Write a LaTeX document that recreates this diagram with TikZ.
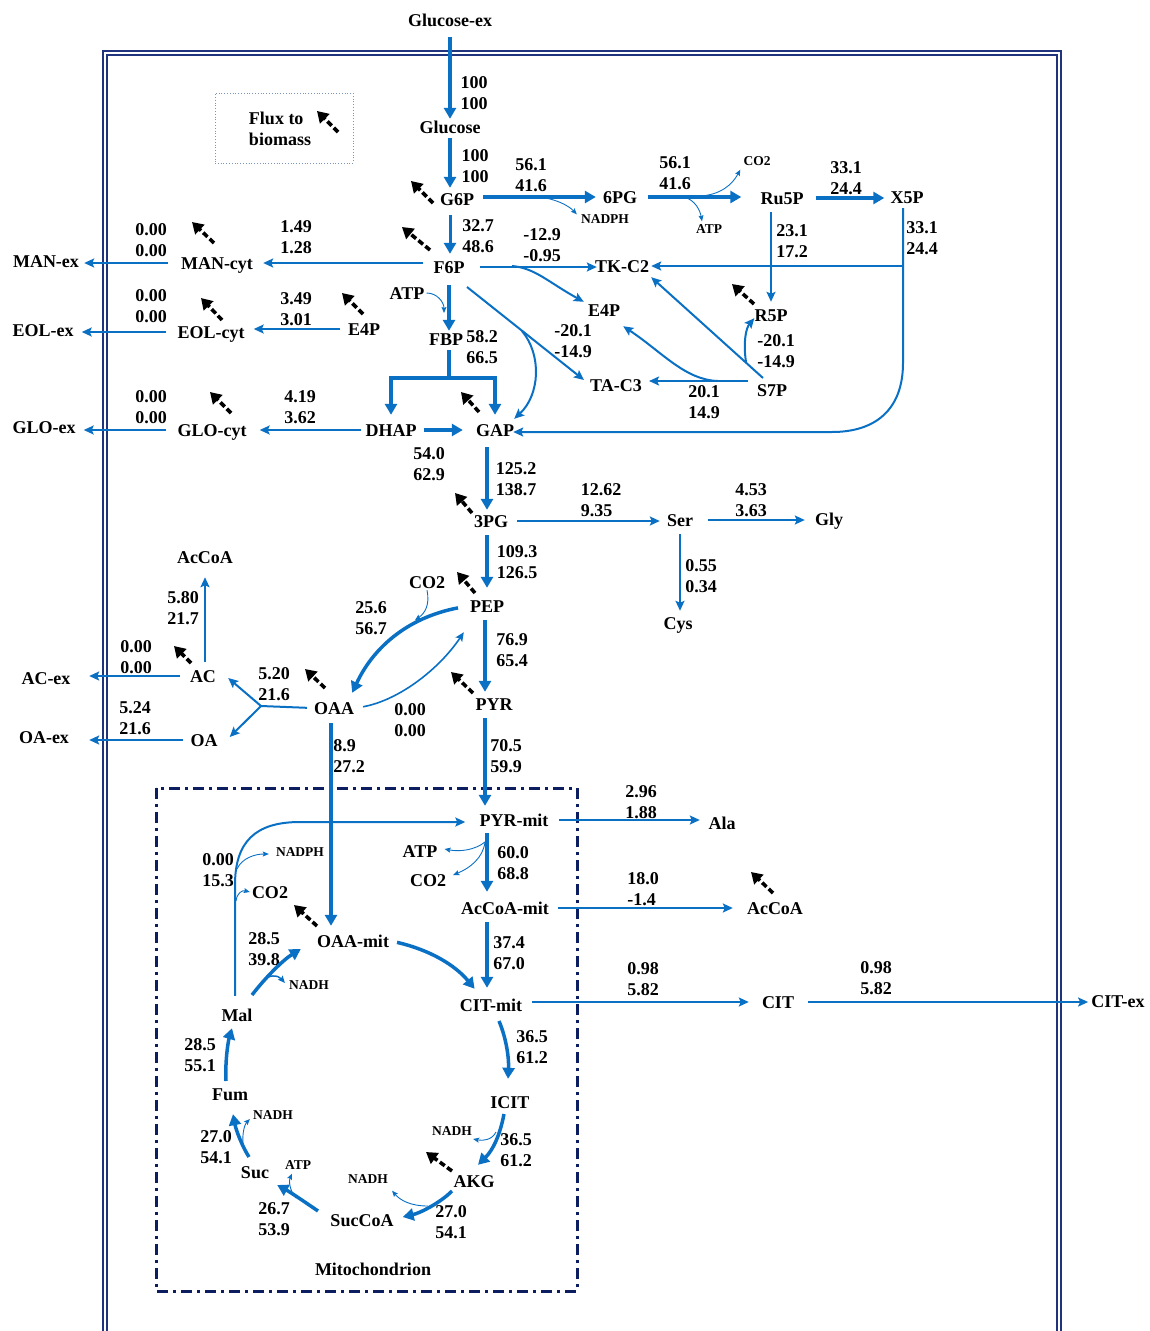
\documentclass[tikz,border=0pt]{standalone}
\usepackage{fontspec}
\setmainfont{Liberation Serif}
\usetikzlibrary{arrows.meta,calc}
\definecolor{fb}{RGB}{10,112,196}
\definecolor{boxc}{RGB}{32,52,125}
\definecolor{mitc}{RGB}{12,30,95}
\definecolor{legc}{RGB}{120,150,185}
\newcommand\bioarr[3]{\coordinate (#1s) at (#2); \coordinate (#1h) at (#3); \draw[bio] (#1s) -- (#1h);}
\tikzset{
 met/.style={font=\bfseries\fontsize{18}{21}\selectfont, inner sep=2pt, text height=12pt, text depth=0pt},
 sm/.style={font=\bfseries\fontsize{13.5}{15}\selectfont, inner sep=1pt, text height=9pt, text depth=0pt},
 num/.style={font=\bfseries\fontsize{18}{21}\selectfont, align=left, inner sep=0pt},
 thk/.style={draw=fb, line width=3.5pt, -{Triangle[length=11pt,width=12pt]}},
 thkb/.style={draw=fb, line width=3.5pt, line join=miter, {Triangle[length=11pt,width=12pt]}-{Triangle[length=11pt,width=12pt]}},
 med/.style={draw=fb, line width=2pt, -{Stealth[length=10pt,width=9pt,inset=2pt]}},
 thn/.style={draw=fb, line width=0.9pt, -{Stealth[length=6pt,width=5pt,inset=1pt]}},
 bio/.style={draw=black, line width=3.6pt, dash pattern=on 6pt off 3pt, -{Triangle[length=11pt,width=13pt]}},
 outerbox/.style={draw=boxc, double=white, double distance=1.5pt, line width=1.8pt},
 mitbox/.style={draw=mitc, line width=3pt, dash pattern=on 11pt off 5pt on 3pt off 5pt},
 legbox/.style={draw=legc, dotted, line width=0.8pt, minimum width=138pt, minimum height=70pt},
}
\begin{document}
\begin{tikzpicture}[x=1pt,y=-1pt]
\useasboundingbox (0,0) rectangle (1150,1331);
% frames
\draw[outerbox] (105,1331) -- (105,53) -- (1059,53) -- (1059,1331);
\draw[mitbox] (156,788) rectangle (577,1291);
\node[legbox] (legend) at (284,128) {};
\node[num] (legtxt) at (280,129) {Flux to\\biomass};

% metabolites
\node[met] (glcex) at (450,20) {Glucose-ex};
\node[met] (glc) at (450,127) {Glucose};
\node[met] (g6p) at (457,199) {G6P};
\node[met] (f6p) at (449,267) {F6P};
\node[met] (fbp) at (446,339) {FBP};
\node[met] (pg6) at (620,197) {6PG};
\node[met] (ru5p) at (782,198) {Ru5P};
\node[met] (x5p) at (907,197) {X5P};
\node[met] (tkc2) at (622,266) {TK-C2};
\node[met] (e4pr) at (604,310) {E4P};
\node[met] (r5p) at (771,315) {R5P};
\node[met] (tac3) at (616,385) {TA-C3};
\node[met] (s7p) at (772,390) {S7P};
\node[met] (dhap) at (391,430) {DHAP};
\node[met] (gap) at (495,430) {GAP};
\node[met] (glocyt) at (212,430) {GLO-cyt};
\node[met] (gloex) at (44,427) {GLO-ex};
\node[met] (mancyt) at (217,263) {MAN-cyt};
\node[met] (manex) at (46,261) {MAN-ex};
\node[met] (eolcyt) at (211,332) {EOL-cyt};
\node[met] (eolex) at (43,330) {EOL-ex};
\node[met] (e4pl) at (364,329) {E4P};
\node[met] (atpf) at (407,293) {ATP};
\node[met] (pg3) at (491,521) {3PG};
\node[met] (ser) at (680,520) {Ser};
\node[met] (gly) at (829,519) {Gly};
\node[met] (cys) at (678,623) {Cys};
\node[met] (pep) at (487,606) {PEP};
\node[met] (co2p) at (427,582) {CO2};
\node[met] (pyr) at (494,704) {PYR};
\node[met] (oaa) at (334,708) {OAA};
\node[met] (ac) at (203,676) {AC};
\node[met] (oa) at (204,740) {OA};
\node[met] (acex) at (46,678) {AC-ex};
\node[met] (oaex) at (44,737) {OA-ex};
\node[met] (accoal) at (205,557) {AcCoA};
\node[met] (pyrmit) at (514,820) {PYR-mit};
\node[met] (ala) at (722,823) {Ala};
\node[met] (atpm) at (420,851) {ATP};
\node[met] (co2m) at (428,880) {CO2};
\node[met] (accoamit) at (505,908) {AcCoA-mit};
\node[met] (accoar) at (775,908) {AcCoA};
\node[met] (oaamit) at (353,941) {OAA-mit};
\node[met] (citmit) at (491,1005) {CIT-mit};
\node[met] (cit) at (778,1002) {CIT};
\node[met] (citex) at (1118,1001) {CIT-ex};
\node[met] (icit) at (510,1102) {ICIT};
\node[met] (akg) at (474,1181) {AKG};
\node[met] (succoa) at (362,1220) {SucCoA};
\node[met] (suc) at (255,1172) {Suc};
\node[met] (fum) at (230,1094) {Fum};
\node[met] (mal) at (237,1015) {Mal};
\node[met] (co2l) at (270,892) {CO2};
\node[sm] (nadphm) at (300,852) {NADPH};
\node[sm] (nadh1) at (309,985) {NADH};
\node[sm] (nadh2) at (273,1115) {NADH};
\node[sm] (atps) at (298,1165) {ATP};
\node[sm] (nadh3) at (368,1179) {NADH};
\node[sm] (nadh4) at (452,1131) {NADH};
\node[met] (mito) at (373,1269) {Mitochondrion};
\node[sm] (nadphg) at (605,219) {NADPH};
\node[sm] (co2g) at (757,161) {CO2};
\node[sm] (atpg) at (709,229) {ATP};

% flux values
\node[num] (n1) at (474,93) {100\\100};
\node[num] (n2) at (475,166) {100\\100};
\node[num] (n3) at (531,175) {56.1\\41.6};
\node[num] (n4) at (675,173) {56.1\\41.6};
\node[num] (n5) at (846,178) {33.1\\24.4};
\node[num] (n6) at (478,236) {32.7\\48.6};
\node[num] (n7) at (542,245) {-12.9\\-0.95};
\node[num] (n8) at (792,241) {23.1\\17.2};
\node[num] (n9) at (922,238) {33.1\\24.4};
\node[num] (n10) at (296,237) {1.49\\1.28};
\node[num] (n11) at (151,240) {0.00\\0.00};
\node[num] (n12) at (151,306) {0.00\\0.00};
\node[num] (n13) at (296,309) {3.49\\3.01};
\node[num] (n14) at (482,347) {58.2\\66.5};
\node[num] (n15) at (573,341) {-20.1\\-14.9};
\node[num] (n16) at (776,351) {-20.1\\-14.9};
\node[num] (n17) at (704,402) {20.1\\14.9};
\node[num] (n18) at (151,407) {0.00\\0.00};
\node[num] (n19) at (300,407) {4.19\\3.62};
\node[num] (n20) at (429,464) {54.0\\62.9};
\node[num] (n21) at (516,479) {125.2\\138.7};
\node[num] (n22) at (601,500) {12.62\\9.35};
\node[num] (n23) at (751,500) {4.53\\3.63};
\node[num] (n24) at (517,562) {109.3\\126.5};
\node[num] (n25) at (701,576) {0.55\\0.34};
\node[num] (n26) at (371,618) {25.6\\56.7};
\node[num] (n27) at (183,608) {5.80\\21.7};
\node[num] (n28) at (512,650) {76.9\\65.4};
\node[num] (n29) at (136,657) {0.00\\0.00};
\node[num] (n30) at (274,684) {5.20\\21.6};
\node[num] (n31) at (135,718) {5.24\\21.6};
\node[num] (n32) at (410,720) {0.00\\0.00};
\node[num] (n33) at (349,756) {8.9\\27.2};
\node[num] (n34) at (506,756) {70.5\\59.9};
\node[num] (n35) at (641,802) {2.96\\1.88};
\node[num] (n36) at (218,870) {0.00\\15.3};
\node[num] (n37) at (513,863) {60.0\\68.8};
\node[num] (n38) at (643,889) {18.0\\-1.4};
\node[num] (n39) at (264,949) {28.5\\39.8};
\node[num] (n40) at (509,953) {37.4\\67.0};
\node[num] (n41) at (643,979) {0.98\\5.82};
\node[num] (n42) at (876,978) {0.98\\5.82};
\node[num] (n43) at (532,1047) {36.5\\61.2};
\node[num] (n44) at (200,1055) {28.5\\55.1};
\node[num] (n45) at (216,1147) {27.0\\54.1};
\node[num] (n46) at (516,1150) {36.5\\61.2};
\node[num] (n47) at (274,1219) {26.7\\53.9};
\node[num] (n48) at (451,1222) {27.0\\54.1};

% ---- glycolysis / PPP connectors
\draw[thk, shorten <=9pt] (glcex) -- (glc);
\draw[thk, shorten <=3pt, shorten >=3pt] (glc.south) -- (glc.south |- g6p.north);
\draw[thk, shorten <=7pt, shorten >=5pt] (g6p.east |- pg6) -- (pg6.west);
\draw[thk, shorten <=9pt, shorten >=17pt] (pg6.east) -- (pg6.east -| ru5p.west);
\draw[thk, shorten <=10pt, shorten >=4pt] (ru5p.east) -- (ru5p.east -| x5p.west);
\draw[thk, line width=3pt, shorten <=8pt, shorten >=5pt] (glc |- g6p.south) -- (glc |- f6p.north);
\draw[thk, shorten <=10pt] (f6p.south) -- (f6p.south |- fbp.north);
\coordinate (fbj) at (449,378);
\draw[fb, line width=3.5pt, shorten <=3pt] (fbp.south -| fbj) -- (fbj);
\draw[thkb, shorten <=7pt, shorten >=7pt] (dhap.north) |- (fbj) -| (gap.north);
\draw[thk, shorten <=5pt, shorten >=11pt] (dhap.east) -- (gap.west);

\draw[med, shorten <=2pt, shorten >=11pt] (dhap.west) -- (glocyt.east);
\draw[med, shorten <=9pt, shorten >=6pt] (glocyt.west) -- (glocyt.west -| gloex.east);
\draw[med, shorten <=8pt, shorten >=8pt] (f6p.west |- mancyt) -- (mancyt.east);
\draw[med, shorten <=11pt, shorten >=3pt] (mancyt.west) -- (mancyt.west -| manex.east);
\draw[med, shorten <=6pt, shorten >=7pt] (e4pl.west) -- (e4pl.west -| eolcyt.east);
\draw[med, shorten <=9.5pt, shorten >=6pt] (eolcyt.west) -- (eolcyt.west -| eolex.east);

\draw[med, shorten <=13pt, shorten >=-4pt] (f6p.east) -- (f6p.east -| tkc2.west);
\coordinate (xj) at (903,266);
\coordinate (xc1) at (903,363);
\coordinate (xc2) at (832,432);
\draw[med] (xj) -- (tkc2.east);
\draw[med, shorten <=3pt, shorten >=-3pt] (x5p.south -| xj) -- (xc1) .. controls (903,410) and (875,432) .. (xc2) -- (xc2 -| gap.east);
\draw[med, shorten <=6pt, shorten >=5pt] (r5p |- ru5p.south) -- (r5p.north);
\coordinate (fe1) at (512,266);
\draw[med] (fe1) .. controls (535,268) and (548,282) .. ($(e4pr.north west)+(-2,0)$);
\coordinate (ft1) at (467,287);
\draw[med] (ft1) -- ($(tac3.west)+(-4,-5)$);
\coordinate (fg1) at (522,331);
\draw[med] (fg1) .. controls (542,355) and (540,395) .. ($(gap.north east)+(-2,-3)$);
\coordinate (s7a) at (763,378);
\draw[med] (s7a) -- ($(tkc2.south east)+(0,3)$);
\coordinate (s7b) at (748,381);
\draw[med, shorten >=5pt] (s7b) -- (s7b -| tac3.east);
\coordinate (s7c) at (718,381);
\draw[med] (s7c) .. controls (685,380) and (662,352) .. ($(e4pr.south east)+(1,8)$);
\coordinate (s7d) at (746,362);
\draw[med] (s7d) .. controls (743,342) and (746,328) .. ($(r5p.south west)+(2,-5)$);

% cofactors upper
\coordinate (cn1) at (540,197);
\draw[thn] (cn1) .. controls (555,199) and (568,205) .. ($(nadphg.north west)+(-3,1)$);
\coordinate (cc1) at (700,196);
\draw[thn] (cc1) .. controls (720,195) and (732,185) .. ($(co2g.south west)+(-2,3)$);
\coordinate (ca1) at (684,197);
\draw[thn] (ca1) .. controls (695,200) and (700,210) .. ($(atpg.north)+(-7,-2)$);
\coordinate (c4) at (444,313);
\draw[thn] (atpf.east) .. controls (437,293) and (444,302) .. (c4);

% lower glycolysis
\coordinate (vx) at (487,0);
\coordinate (vy) at (485,0);
\draw[thk, shorten <=9pt, shorten >=3pt] (vx |- gap.south) -- (vx |- pg3.north);
\draw[thk, shorten <=6pt, shorten >=10pt] (vx |- pg3.south) -- (vx |- pep.north);
\draw[thk, shorten <=6pt, shorten >=4pt] (vy |- pep.south) -- (vy |- pyr.north);
\draw[thk, shorten <=6pt, shorten >=6pt] (vy |- pyr.south) -- (vy |- pyrmit.north);
\draw[thk, shorten <=5pt, shorten >=8pt] (vx |- pyrmit.south) -- (vx |- accoamit.north);
\draw[thk, shorten <=6pt, shorten >=9pt] (vx |- accoamit.south) -- (vx |- citmit.north);

\draw[med, shorten <=7pt, shorten >=5pt] (pg3.east) -- (pg3.east -| ser.west);
\draw[med, shorten <=13pt, shorten >=8pt] (ser.east) -- (ser.east -| gly.west);
\draw[med, shorten <=6pt, shorten >=4pt] (ser.south) -- (ser.south |- cys.north);

% PEP / OAA
\draw[thk, shorten <=10pt] (pep.west) .. controls (405,618) and (372,650) .. ($(oaa.north east)+(-4,-7)$);
\draw[thn] (co2p.south) .. controls (430,605) and (425,613) .. ($(co2p.south)+(-12,30)$);
\draw[fb, line width=1.6pt, -{Stealth[length=9pt,width=8pt,inset=2pt]}, shorten <=7pt] (oaa.east) .. controls (400,700) and (440,668) .. ($(pep.south west)+(-4,18)$);
\coordinate (oj) at (261,706);
\draw[fb, line width=2pt, shorten <=5pt] (oaa.west) -- (oj);
\draw[med] (oj) -- ($(ac.east)+(10,2)$);
\draw[med] (oj) -- ($(oa.east)+(10,-3)$);
\draw[med, shorten <=8pt, shorten >=16.5pt] (ac.west) -- (ac.west -| acex.east);
\draw[med, shorten <=5.5pt, shorten >=18pt] (oa.west) -- (oa.west -| oaex.east);
\draw[med, shorten <=6pt, shorten >=12pt] (ac.north -| accoal) -- (accoal.south);
\coordinate (vz) at (331,0);
\draw[thk, shorten <=7pt, shorten >=7pt] (vz |- oaa.south) -- (vz |- oaamit.north);

% TCA cycle
\draw[thk, shorten <=6pt] (oaamit.east) .. controls (430,950) and (455,965) .. ($(citmit.north west)+(17,-8)$);
\coordinate (cm1) at (499,1021);
\draw[thk] (cm1) .. controls (507,1040) and (509,1060) .. ($(icit.north)+(-2,-15)$);
\coordinate (cm2) at (504,1114);
\draw[thk] (cm2) .. controls (500,1135) and (493,1150) .. ($(akg.north)+(4,-8)$);
\coordinate (cm3) at (496,1132);
\draw[thn] (cm3) .. controls (492,1140) and (483,1141) .. ($(nadh4.east)+(0,8)$);
\coordinate (cm4) at (452,1191);
\draw[thk] (cm4) .. controls (440,1203) and (420,1213) .. ($(succoa.east)+(7,-3)$);
\coordinate (cm5) at (428,1206);
\draw[thn] (cm5) .. controls (410,1206) and (400,1200) .. ($(nadh3.south east)+(3,6)$);
\coordinate (cm6) at (318,1211);
\draw[thk] (cm6) .. controls (302,1200) and (290,1192) .. ($(suc.east)+(6,13)$);
\coordinate (cm7) at (296,1198);
\draw[thn] (cm7) .. controls (289,1190) and (289,1180) .. ($(atps.south)+(-6,3)$);
\coordinate (cm8) at (249,1157);
\draw[thk] (cm8) .. controls (242,1146) and (236,1130) .. ($(fum.south)+(3,12)$);
\coordinate (cm9) at (243,1145);
\draw[thn] (cm9) .. controls (242,1132) and (245,1124) .. ($(nadh2.west)+(-2,4)$);
\coordinate (cm10) at (226,1081);
\draw[thk] (cm10) .. controls (225,1062) and (228,1042) .. ($(mal.south)+(-5,5)$);
\coordinate (cm11) at (252,995);
\draw[thk] (cm11) .. controls (265,978) and (283,960) .. ($(oaamit.west)+(-14,8)$);
\coordinate (cm12) at (262,982);
\draw[fb, line width=1.5pt, -{Stealth[length=7pt,width=6pt,inset=1pt]}] (cm12) .. controls (268,974) and (278,975) .. ($(nadh1.west)+(-3,-2)$);

\coordinate (vm) at (235,0);
\coordinate (pm1) at (235,885);
\coordinate (pm2) at (300,822);
\draw[med, shorten <=11pt, shorten >=12pt] (vm |- mal.north) -- (pm1) .. controls (235,842) and (255,822) .. (pm2) -- (pm2 -| pyrmit.west);
\coordinate (cm14) at (237,869);
\draw[thn] (cm14) .. controls (242,858) and (255,854) .. ($(nadphm.west)+(-6,2)$);
\coordinate (cm15) at (236,901);
\draw[thn] (cm15) .. controls (237,893) and (242,890) .. (co2l.west);
\coordinate (cm16) at (485,842);
\draw[thn] (cm16) .. controls (475,850) and (460,852) .. ($(atpm.east)+(5,-2)$);
\draw[thn] (cm16) .. controls (483,858) and (470,868) .. ($(co2m.east)+(5,-5)$);

% exits
\draw[med, shorten <=8.5pt, shorten >=6.5pt] (pyrmit.east) -- (pyrmit.east -| ala.west);
\draw[med, shorten <=7pt, shorten >=12pt] (accoamit.east) -- (accoamit.east -| accoar.west);
\draw[med, shorten <=8pt, shorten >=11pt] (citmit.east |- cit) -- (cit.west);
\draw[med, shorten <=12pt, shorten >=1pt] (cit.east) -- (cit.east -| citex.west);

% flux to biomass arrows
\bioarr{bl}{338,132}{317,111}
\bioarr{bg}{433,203}{411,181}
\bioarr{bf}{430,250}{402,227}
\bioarr{bgap}{479,412}{461,392}
\bioarr{bman}{214,243}{192,222}
\bioarr{beol}{222,320}{201,298}
\bioarr{be4}{363,314}{342,293}
\bioarr{bglo}{231,413}{210,392}
\bioarr{br5}{754,304}{732,284}
\bioarr{b3pg}{472,513}{455,493}
\bioarr{bpep}{475,593}{457,572}
\bioarr{bpyr}{473,693}{451,672}
\bioarr{boaa}{325,688}{305,669}
\bioarr{bac}{191,663}{174,646}
\bioarr{boam}{317,926}{294,905}
\bioarr{bacc}{773,893}{751,872}
\bioarr{bakg}{452,1171}{426,1152}
\end{tikzpicture}
\end{document}
